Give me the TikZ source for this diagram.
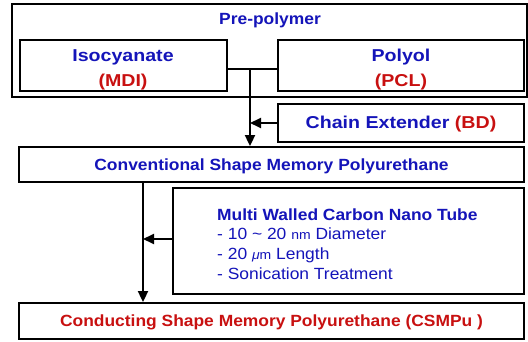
\documentclass[tikz,border=0pt]{standalone}
\usepackage{fontspec}
\setmainfont{Liberation Sans}[FakeStretch=1.075]
\newfontfamily\bigfam{Liberation Sans}[FakeStretch=1.14]
\usetikzlibrary{arrows.meta}
\definecolor{dblue}{RGB}{20,20,185}
\definecolor{dred}{RGB}{200,16,16}
\tikzset{
  box/.style={draw=black, line width=1.8pt, inner sep=0pt, fill=white},
  lbl/.style={font=\fontsize{16.2}{25}\selectfont\bfseries, text=dblue, align=center, inner sep=0pt},
  biglbl/.style={font=\bigfam\fontsize{17.2}{25}\selectfont\bfseries, text=dblue, align=center, inner sep=0pt},
  one/.style={text height=11.5pt, text depth=0pt},
  conn/.style={line width=1.8pt},
  arr/.style={line width=1.8pt, -{Triangle[length=11pt,width=10pt]}}
}
\newcommand{\rd}[1]{\textcolor{dred}{#1}}
\newcommand{\unitsm}[1]{{\fontsize{13}{13}\selectfont\mdseries #1}}
\begin{document}
\begin{tikzpicture}[x=1pt,y={(0,-1pt)}]
\useasboundingbox (0,0) rectangle (528,342);
% boxes
\node[box, minimum width=515pt, minimum height=93pt] (pre) at (269.5,50.5) {};
\node[lbl] (pretext) at (270,20) {Pre-polymer};
\node[box, minimum width=207pt, minimum height=51pt] (iso) at (123.5,65.5) {};
\node[biglbl] (isotext) at (123,69.5) {Isocyanate\\\rd{(MDI)}};
\node[box, minimum width=246pt, minimum height=51pt] (pol) at (401,65.5) {};
\node[biglbl] (poltext) at (401,69.5) {Polyol\\\rd{(PCL)}};
\node[box, biglbl, one, minimum width=246pt, minimum height=38pt] (ce) at (401,123) {Chain Extender \rd{(BD)}};
\node[box, lbl, one, minimum width=505pt, minimum height=35pt] (conv) at (271.5,164.5) {Conventional Shape Memory Polyurethane};
\node[box, minimum width=351pt, minimum height=106pt] (mw) at (348.5,241) {};
\node[lbl, anchor=west, align=left, font=\fontsize{16.2}{19.7}\selectfont] (mwtext) at (217,244)
  {\textbf{Multi Walled Carbon Nano Tube}\\
   - 10 \textasciitilde{} 20 \unitsm{nm} Diameter\\
   - 20 \unitsm{\textit{μ}m} Length\\
   - Sonication Treatment};
\node[box, lbl, one, text=dred, minimum width=505pt, minimum height=36pt] (cs) at (271.5,321) {Conducting Shape Memory Polyurethane (CSMPu )};
% connectors
\coordinate (j) at (250,69);
\coordinate (k) at (143,239);
\draw[conn] (j -| iso.east) -- (j -| pol.west);
\draw[arr] (j) -- (j |- conv.north);
\draw[arr] (ce.west) -- (ce.west -| j);
\draw[arr] (k |- conv.south) -- (k |- cs.north);
\draw[arr] (mw.west |- k) -- (k);
\end{tikzpicture}
\end{document}
